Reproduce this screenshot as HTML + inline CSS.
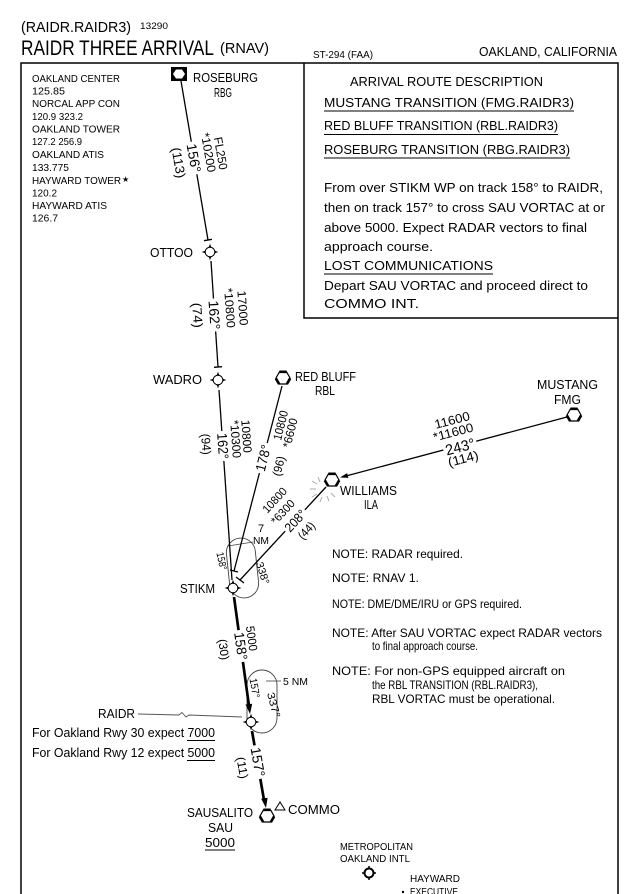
<!DOCTYPE html>
<html>
<head>
<meta charset="utf-8">
<style>
html,body{margin:0;padding:0;background:#fff;}
svg{display:block;}
text{font-family:"Liberation Sans", "DejaVu Sans", sans-serif;}
</style>
</head>
<body>
<svg xmlns="http://www.w3.org/2000/svg" width="640" height="894" viewBox="0 0 640 894" fill="#000">
<defs>
  <g id="wp">
    <path d="M0,-8.5 Q1.5,-1.5 8.5,0 Q1.5,1.5 0,8.5 Q-1.5,1.5 -8.5,0 Q-1.5,-1.5 0,-8.5Z" fill="#000"/>
    <circle r="4.8" fill="#fff" stroke="#000" stroke-width="1"/>
  </g>
  <g id="vortac">
    <polygon points="-3.6,-6 3.6,-6 7,0 3.6,6 -3.6,6 -7,0" fill="#fff" stroke="#000" stroke-width="1.2"/>
    <path d="M-3.6,-6.2 L3.6,-6.2 M7.2,0.3 L3.8,6.2 M-3.8,6.2 L-7.2,0.3" stroke="#000" stroke-width="2.6" fill="none"/>
  </g>
</defs>

<!-- Header -->
<text x="21" y="32" font-size="14.5" textLength="110" lengthAdjust="spacingAndGlyphs">(RAIDR.RAIDR3)</text>
<text x="140" y="29" font-size="9" textLength="28" lengthAdjust="spacingAndGlyphs">13290</text>
<text x="21" y="55" font-size="21" textLength="193" lengthAdjust="spacingAndGlyphs">RAIDR THREE ARRIVAL</text>
<text x="220" y="53" font-size="14.5" textLength="49" lengthAdjust="spacingAndGlyphs">(RNAV)</text>
<text x="313" y="58" font-size="10.5" textLength="60" lengthAdjust="spacingAndGlyphs">ST-294 (FAA)</text>
<text x="479" y="56" font-size="12.5" textLength="138" lengthAdjust="spacingAndGlyphs">OAKLAND, CALIFORNIA</text>

<!-- Frame -->
<path d="M21,894 V63 H618 V894" fill="none" stroke="#000" stroke-width="1.5"/>
<path d="M304,63 V318 H618" fill="none" stroke="#000" stroke-width="1.5"/>

<!-- Frequencies -->
<g font-size="10.5">
<text x="32" y="82" textLength="88" lengthAdjust="spacingAndGlyphs">OAKLAND CENTER</text>
<text x="32" y="94.5" textLength="33" lengthAdjust="spacingAndGlyphs">125.85</text>
<text x="32" y="107" textLength="88" lengthAdjust="spacingAndGlyphs">NORCAL APP CON</text>
<text x="32" y="120" textLength="51" lengthAdjust="spacingAndGlyphs">120.9  323.2</text>
<text x="32" y="132.5" textLength="88" lengthAdjust="spacingAndGlyphs">OAKLAND TOWER</text>
<text x="32" y="145" textLength="50" lengthAdjust="spacingAndGlyphs">127.2  256.9</text>
<text x="32" y="158" textLength="72" lengthAdjust="spacingAndGlyphs">OAKLAND ATIS</text>
<text x="32" y="171" textLength="37" lengthAdjust="spacingAndGlyphs">133.775</text>
<text x="32" y="184" textLength="89" lengthAdjust="spacingAndGlyphs">HAYWARD TOWER</text>
<text x="122" y="182" font-size="8">★</text>
<text x="32" y="196.5" textLength="25" lengthAdjust="spacingAndGlyphs">120.2</text>
<text x="32" y="209" textLength="75" lengthAdjust="spacingAndGlyphs">HAYWARD ATIS</text>
<text x="32" y="221.5" textLength="26" lengthAdjust="spacingAndGlyphs">126.7</text>
</g>

<!-- Arrival route description box -->
<g font-size="13">
<text x="350" y="86" textLength="193" lengthAdjust="spacingAndGlyphs">ARRIVAL ROUTE DESCRIPTION</text>
<text x="324" y="107" textLength="250" lengthAdjust="spacingAndGlyphs">MUSTANG TRANSITION  (FMG.RAIDR3)</text>
<text x="324" y="130" textLength="234" lengthAdjust="spacingAndGlyphs">RED BLUFF TRANSITION (RBL.RAIDR3)</text>
<text x="324" y="154" textLength="246" lengthAdjust="spacingAndGlyphs">ROSEBURG TRANSITION (RBG.RAIDR3)</text>
<text x="324" y="192" textLength="279" lengthAdjust="spacingAndGlyphs">From over STIKM WP on track 158° to RAIDR,</text>
<text x="324" y="212" textLength="281" lengthAdjust="spacingAndGlyphs">then on track 157° to cross SAU VORTAC at or</text>
<text x="324" y="232" textLength="263" lengthAdjust="spacingAndGlyphs">above 5000. Expect RADAR vectors to final</text>
<text x="324" y="251" textLength="109" lengthAdjust="spacingAndGlyphs">approach course.</text>
<text x="324" y="270" textLength="169" lengthAdjust="spacingAndGlyphs">LOST COMMUNICATIONS</text>
<text x="324" y="290" textLength="264" lengthAdjust="spacingAndGlyphs">Depart SAU VORTAC and proceed direct to</text>
<text x="324" y="308" textLength="95" lengthAdjust="spacingAndGlyphs">COMMO INT.</text>
</g>
<g stroke="#000" stroke-width="1">
<line x1="324" y1="111" x2="574" y2="111"/>
<line x1="324" y1="134.5" x2="558" y2="134.5"/>
<line x1="324" y1="158" x2="570" y2="158"/>
<line x1="324" y1="274" x2="493" y2="274"/>
</g>

<!-- Notes -->
<g font-size="12">
<text x="332" y="558" textLength="131" lengthAdjust="spacingAndGlyphs">NOTE: RADAR required.</text>
<text x="332" y="582" textLength="87" lengthAdjust="spacingAndGlyphs">NOTE: RNAV 1.</text>
<text x="332" y="608" textLength="190" lengthAdjust="spacingAndGlyphs">NOTE: DME/DME/IRU or GPS required.</text>
<text x="332" y="637" textLength="270" lengthAdjust="spacingAndGlyphs">NOTE: After SAU VORTAC expect RADAR vectors</text>
<text x="372" y="650" textLength="106" lengthAdjust="spacingAndGlyphs">to final approach course.</text>
<text x="332" y="675" textLength="233" lengthAdjust="spacingAndGlyphs">NOTE: For non-GPS equipped aircraft on</text>
<text x="372" y="689" textLength="166" lengthAdjust="spacingAndGlyphs">the RBL TRANSITION (RBL.RAIDR3),</text>
<text x="372" y="703" textLength="183" lengthAdjust="spacingAndGlyphs">RBL VORTAC must be operational.</text>
</g>

<!-- Holding patterns -->
<rect x="228" y="538" width="29" height="60" rx="14.5" fill="none" stroke="#444" stroke-width="0.9" transform="rotate(-6 242.5 568)"/>
<rect x="247" y="670" width="30" height="63" rx="15" fill="none" stroke="#444" stroke-width="0.9"/>
<line x1="228" y1="546" x2="253" y2="542" stroke="#444" stroke-width="0.8"/>
<line x1="266" y1="681" x2="281" y2="681" stroke="#444" stroke-width="0.8"/>

<!-- Starburst at ILA -->
<g stroke="#aaa" stroke-width="1">
<line x1="317" y1="484" x2="312" y2="481"/>
<line x1="316" y1="489" x2="310" y2="489"/>
<line x1="317" y1="494" x2="312" y2="497"/>
<line x1="322" y1="497" x2="320" y2="502"/>
<line x1="327" y1="496" x2="329" y2="501"/>
<line x1="331" y1="493" x2="335" y2="497"/>
<line x1="320" y1="482" x2="318" y2="477"/>
</g>

<!-- Route lines -->
<g stroke="#000" stroke-width="1.3" fill="none">
<line x1="181" y1="81" x2="208" y2="240"/>
<line x1="204" y1="240.7" x2="212" y2="239.3"/>
<line x1="211" y1="261" x2="218" y2="367"/>
<line x1="214" y1="367.3" x2="222" y2="366.7"/>
<line x1="219" y1="390" x2="232" y2="580"/>
<line x1="282" y1="386" x2="234" y2="571"/>
<line x1="230" y1="570" x2="238" y2="572"/>
<line x1="326" y1="487" x2="240" y2="580"/>
<line x1="236" y1="577" x2="244" y2="583"/>
<line x1="567" y1="417" x2="346" y2="476"/>
</g>
<polygon points="340,477.5 348.4,477.9 347.1,473.1" fill="#000"/>

<!-- Thick final route -->
<g stroke="#000" stroke-width="2.7" fill="none">
<line x1="234" y1="597" x2="249" y2="706"/>
<line x1="252" y1="731" x2="264" y2="800"/>
</g>
<polygon points="250,714 252.2,703.7 245.5,704.5" fill="#000"/>
<polygon points="266,808 267.6,797.7 261.2,798.7" fill="#000"/>

<!-- RAIDR leader -->
<path d="M138,714 L179,715 L182,712.5 L186,717 L189,715 L242,717" fill="none" stroke="#555" stroke-width="0.9"/>

<!-- Symbols -->
<rect x="171" y="67" width="16" height="14" fill="#000"/>
<polygon points="176,69.5 182,69.5 185,74 182,78.5 176,78.5 173,74" fill="#fff"/>
<use href="#wp" x="210" y="252"/>
<use href="#wp" x="218" y="380"/>
<use href="#wp" x="233" y="588"/>
<use href="#wp" x="251" y="722"/>
<use href="#vortac" x="283" y="378"/>
<use href="#vortac" x="332" y="480"/>
<use href="#vortac" x="574" y="415"/>
<use href="#vortac" x="267" y="816"/>
<polygon points="275,810 285,810 280,802" fill="#fff" stroke="#000" stroke-width="1"/>
<g stroke="#000" fill="none">
<circle cx="369" cy="873" r="4.5" stroke-width="2"/>
<line x1="369" y1="866" x2="369" y2="868" stroke-width="1.5"/>
<line x1="369" y1="878" x2="369" y2="880" stroke-width="1.5"/>
<line x1="362" y1="873" x2="364" y2="873" stroke-width="1.5"/>
<line x1="374" y1="873" x2="376" y2="873" stroke-width="1.5"/>
</g>
<circle cx="403" cy="892" r="1.2" fill="#000"/>

<!-- Fix labels -->
<g font-size="12.5">
<text x="193" y="82" textLength="65" lengthAdjust="spacingAndGlyphs">ROSEBURG</text>
<text x="214" y="97" textLength="18" lengthAdjust="spacingAndGlyphs">RBG</text>
<text x="150" y="257" textLength="43" lengthAdjust="spacingAndGlyphs">OTTOO</text>
<text x="153" y="384" textLength="49" lengthAdjust="spacingAndGlyphs">WADRO</text>
<text x="295" y="381" textLength="61" lengthAdjust="spacingAndGlyphs">RED BLUFF</text>
<text x="315" y="395" textLength="20" lengthAdjust="spacingAndGlyphs">RBL</text>
<text x="537" y="389" textLength="61" lengthAdjust="spacingAndGlyphs">MUSTANG</text>
<text x="554" y="404" textLength="27" lengthAdjust="spacingAndGlyphs">FMG</text>
<text x="340" y="495" textLength="57" lengthAdjust="spacingAndGlyphs">WILLIAMS</text>
<text x="364" y="509" textLength="14" lengthAdjust="spacingAndGlyphs">ILA</text>
<text x="180" y="593" textLength="35" lengthAdjust="spacingAndGlyphs">STIKM</text>
<text x="98" y="718" textLength="37" lengthAdjust="spacingAndGlyphs">RAIDR</text>
<text x="32" y="737" textLength="183" lengthAdjust="spacingAndGlyphs">For Oakland Rwy 30 expect 7000</text>
<text x="32" y="757" textLength="183" lengthAdjust="spacingAndGlyphs">For Oakland Rwy 12 expect 5000</text>
<text x="187" y="817" textLength="66" lengthAdjust="spacingAndGlyphs">SAUSALITO</text>
<text x="208" y="832" textLength="25" lengthAdjust="spacingAndGlyphs">SAU</text>
<text x="205" y="847" textLength="30" lengthAdjust="spacingAndGlyphs">5000</text>
<text x="288" y="814" textLength="52" lengthAdjust="spacingAndGlyphs">COMMO</text>
</g>
<g stroke="#000" stroke-width="1">
<line x1="187" y1="740.5" x2="215" y2="740.5"/>
<line x1="187" y1="760.5" x2="215" y2="760.5"/>
<line x1="205" y1="850" x2="235" y2="850"/>
</g>
<g font-size="10">
<text x="340" y="850" textLength="73" lengthAdjust="spacingAndGlyphs">METROPOLITAN</text>
<text x="340" y="862" textLength="70" lengthAdjust="spacingAndGlyphs">OAKLAND INTL</text>
<text x="410" y="882" textLength="50" lengthAdjust="spacingAndGlyphs">HAYWARD</text>
<text x="410" y="895" textLength="48" lengthAdjust="spacingAndGlyphs">EXECUTIVE</text>
</g>

<!-- Hold labels -->
<g font-size="10.5">
<text transform="translate(222,561) rotate(78)" y="3.8" text-anchor="middle" textLength="18" lengthAdjust="spacingAndGlyphs">158°</text>
<text transform="translate(263,573) rotate(72)" y="3.8" text-anchor="middle" textLength="23" lengthAdjust="spacingAndGlyphs">338°</text>
<text x="258" y="532" font-size="11">7</text>
<text x="253" y="544" font-size="10.5" textLength="16" lengthAdjust="spacingAndGlyphs">NM</text>
<text transform="translate(255,688) rotate(80)" y="3.8" text-anchor="middle" textLength="20" lengthAdjust="spacingAndGlyphs">157°</text>
<text transform="translate(274,705) rotate(75)" y="3.8" text-anchor="middle" textLength="26" lengthAdjust="spacingAndGlyphs">337°</text>
<text x="283" y="685" textLength="25" lengthAdjust="spacingAndGlyphs">5 NM</text>
</g>

<!-- Segment labels: RBG - OTTOO -->
<g transform="translate(194,158) rotate(80)" text-anchor="middle">
<rect x="-16.5" y="-6" width="33" height="12" fill="#fff"/>
<text x="0" y="-23" font-size="12" textLength="33" lengthAdjust="spacingAndGlyphs">FL250</text>
<text x="-3" y="-11" font-size="12" textLength="40" lengthAdjust="spacingAndGlyphs">*10200</text>
<text x="0" y="5" font-size="14" textLength="29" lengthAdjust="spacingAndGlyphs">156°</text>
<text x="2" y="20.5" font-size="13" textLength="31" lengthAdjust="spacingAndGlyphs">(113)</text>
</g>

<!-- OTTOO - WADRO -->
<g transform="translate(214.5,315) rotate(86)" text-anchor="middle">
<rect x="-16.5" y="-6" width="33" height="12" fill="#fff"/>
<text x="-5" y="-24.5" font-size="12" textLength="35" lengthAdjust="spacingAndGlyphs">17000</text>
<text x="-6" y="-11.5" font-size="12" textLength="40" lengthAdjust="spacingAndGlyphs">*10800</text>
<text x="0" y="5" font-size="14" textLength="29" lengthAdjust="spacingAndGlyphs">162°</text>
<text x="-1" y="21.5" font-size="13" textLength="25" lengthAdjust="spacingAndGlyphs">(74)</text>
</g>

<!-- WADRO - STIKM -->
<g transform="translate(223,446) rotate(86)" text-anchor="middle">
<rect x="-15" y="-6" width="30" height="12" fill="#fff"/>
<text x="-8" y="-20" font-size="12" textLength="33" lengthAdjust="spacingAndGlyphs">10800</text>
<text x="-6" y="-9" font-size="12" textLength="38" lengthAdjust="spacingAndGlyphs">*10300</text>
<text x="0" y="5" font-size="14" textLength="26" lengthAdjust="spacingAndGlyphs">162°</text>
<text x="-3" y="21" font-size="12.5" textLength="21" lengthAdjust="spacingAndGlyphs">(94)</text>
</g>

<!-- RBL - STIKM -->
<g transform="translate(263,458) rotate(-76)" text-anchor="middle">
<rect x="-15.5" y="-6" width="31" height="12" fill="#fff"/>
<text x="36" y="13.3" font-size="12" textLength="30" lengthAdjust="spacingAndGlyphs">10800</text>
<text x="31" y="24.3" font-size="12" textLength="30" lengthAdjust="spacingAndGlyphs">*6600</text>
<text x="0" y="5" font-size="14" textLength="27" lengthAdjust="spacingAndGlyphs">178°</text>
<text x="-4" y="21.3" font-size="12" textLength="20" lengthAdjust="spacingAndGlyphs">(96)</text>
</g>

<!-- FMG - ILA -->
<g transform="translate(460,446.5) rotate(-14.6)" text-anchor="middle">
<rect x="-17" y="-6.5" width="34" height="13" fill="#fff"/>
<text x="-1" y="-23.2" font-size="12.5" textLength="36" lengthAdjust="spacingAndGlyphs">11600</text>
<text x="-3" y="-11.3" font-size="12.5" textLength="41" lengthAdjust="spacingAndGlyphs">*11600</text>
<text x="0" y="5.4" font-size="15" textLength="30" lengthAdjust="spacingAndGlyphs">243°</text>
<text x="0" y="17" font-size="13" textLength="31" lengthAdjust="spacingAndGlyphs">(114)</text>
</g>

<!-- ILA - STIKM -->
<g transform="translate(295,520.5) rotate(-47)" text-anchor="middle">
<rect x="-14.5" y="-6" width="29" height="12" fill="#fff"/>
<text x="1" y="-24.8" font-size="11.5" textLength="30" lengthAdjust="spacingAndGlyphs">10800</text>
<text x="-2" y="-10.8" font-size="11.5" textLength="29" lengthAdjust="spacingAndGlyphs">*6300</text>
<text x="0" y="5" font-size="13" textLength="25" lengthAdjust="spacingAndGlyphs">208°</text>
<text x="0.5" y="19.3" font-size="12" textLength="19" lengthAdjust="spacingAndGlyphs">(44)</text>
</g>

<!-- STIKM - RAIDR -->
<g transform="translate(241,646) rotate(82)" text-anchor="middle">
<rect x="-16" y="-6.5" width="32" height="13" fill="#fff"/>
<text x="-6" y="-7.5" font-size="12" textLength="25" lengthAdjust="spacingAndGlyphs">5000</text>
<text x="0" y="5" font-size="14" textLength="28" lengthAdjust="spacingAndGlyphs">158°</text>
<text x="1" y="21.7" font-size="12" textLength="21" lengthAdjust="spacingAndGlyphs">(30)</text>
</g>

<!-- RAIDR - SAU -->
<g transform="translate(258,762) rotate(80)" text-anchor="middle">
<rect x="-17" y="-6.5" width="34" height="13" fill="#fff"/>
<text x="0" y="5" font-size="14" textLength="30" lengthAdjust="spacingAndGlyphs">157°</text>
<text x="3" y="20.5" font-size="12" textLength="22" lengthAdjust="spacingAndGlyphs">(11)</text>
</g>

</svg>
</body>
</html>
